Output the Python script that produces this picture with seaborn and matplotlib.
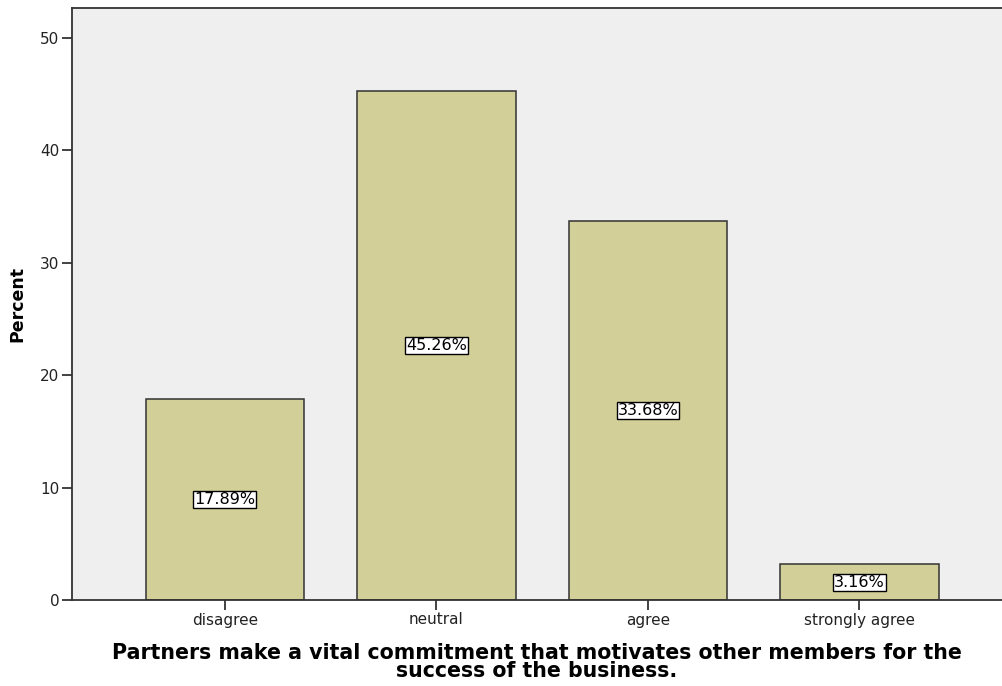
import matplotlib
matplotlib.use("Agg")
import matplotlib.pyplot as plt
import seaborn as sns
import pandas as pd

categories = ["disagree", "neutral", "agree", "strongly agree"]
percents = [17.89, 45.26, 33.68, 3.16]
value_labels = ["17.89%", "45.26%", "33.68%", "3.16%"]
yticks = [0, 10, 20, 30, 40, 50]

sns.set_style("white")
plt.rcParams['font.family'] = ['DejaVu Sans']

df = pd.DataFrame({"cat": categories, "pct": percents})

fig = plt.figure(figsize=(10.02, 6.86), dpi=100)
ax = fig.add_axes([72/1002, 1 - 600/686, 1 - 72/1002, (600 - 8)/686])
ax.set_facecolor("#EFEFEF")

sns.barplot(data=df, x="cat", y="pct", order=categories, color="#D3CF98",
            saturation=1, width=0.75, edgecolor="#333333", linewidth=1.1, ax=ax)

for i, (v, lab) in enumerate(zip(percents, value_labels)):
    ax.text(i, v / 2, lab, ha="center", va="center", fontsize=11.5, color="black",
            bbox=dict(boxstyle="square,pad=0.06", facecolor="white", edgecolor="black", linewidth=1))

ax.set_xlim(-0.723, 3.674)
ax.set_ylim(0, 52.67)
ax.set_yticks(yticks)
ax.set_yticklabels([str(t) for t in yticks], fontsize=11, color="#222222")
ax.set_xticks(range(len(categories)))
ax.set_xticklabels(categories, fontsize=11, color="#222222")
ax.tick_params(axis="both", which="major", bottom=True, left=True, direction="out",
               length=7, width=1.3, color="#333333", pad=2)

for s in ["left", "bottom", "top"]:
    ax.spines[s].set_visible(True)
    ax.spines[s].set_color("#333333")
    ax.spines[s].set_linewidth(1.3)
ax.spines["right"].set_visible(False)

ax.set_ylabel("Percent", fontsize=12.5, fontweight="bold", labelpad=10, color="black")
ax.set_xlabel("Partners make a vital commitment that motivates other members for the\nsuccess of the business.",
              fontsize=14.8, fontweight="bold", linespacing=0.88, labelpad=11, color="black")

fig.savefig("out.png", dpi=100)
